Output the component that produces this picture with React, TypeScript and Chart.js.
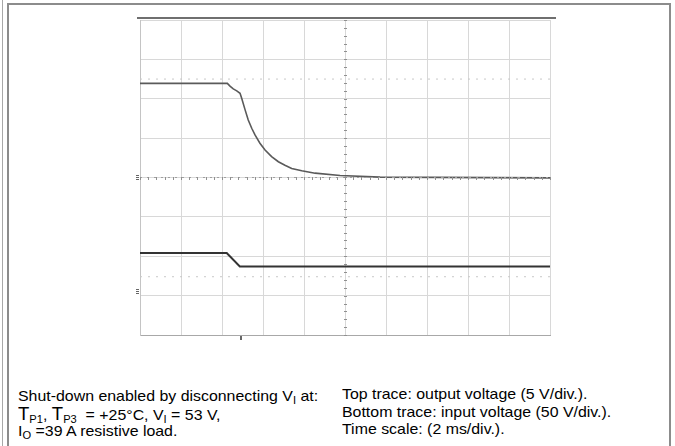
import React, { useEffect, useRef } from "react";
import { Chart, registerables } from "chart.js";

Chart.register(...registerables);

// Time in ms (2 ms/div), amplitude in divisions (screen centre = 0)
const topTraceTime = [
  0, 4.26, 4.39, 4.55, 4.72, 4.88, 4.96, 5.12, 5.28, 5.45, 5.61, 5.85, 6.1, 6.42, 6.75, 7.07, 7.4, 7.89, 8.54,
  9.76, 11.71, 20,
];
const topTraceDiv = [
  2.39, 2.39, 2.32, 2.25, 2.2, 2.14, 2.01, 1.73, 1.46, 1.25, 1.08, 0.87, 0.7, 0.53, 0.4, 0.31, 0.23, 0.17, 0.11,
  0.05, 0.01, -0.01,
];

const bottomTraceTime = [0, 4.23, 4.87, 20];
const bottomTraceDiv = [-1.92, -1.92, -2.26, -2.26];

const cursorLevels = [2.5, -2.52];
const channelGroundLevels = [0, -2.92];
const triggerTime = 4.95;

const xMin = 0;
const xMax = 20;
const xStep = 2;
const yMin = -4;
const yMax = 4;
const yStep = 1;

const scopePlugin = {
  id: "scopeDecor",
  afterDatasetsDraw(chart: any) {
    const { ctx, chartArea, scales } = chart;
    const xs = scales.x;
    const ys = scales.y;
    ctx.save();
    // dark strip over the graticule
    ctx.strokeStyle = "#6f6f6f";
    ctx.lineWidth = 2;
    ctx.beginPath();
    ctx.moveTo(chartArea.left - 3, chartArea.top - 2);
    ctx.lineTo(chartArea.right + 6, chartArea.top - 2);
    ctx.stroke();

    // centre-line minor ticks
    const cx = Math.round(xs.getPixelForValue((xMin + xMax) / 2)) + 0.5;
    const cy = Math.round(ys.getPixelForValue(0)) + 0.5;
    ctx.strokeStyle = "#909090";
    ctx.lineWidth = 1;
    ctx.beginPath();
    for (let v = yMin; v <= yMax + 1e-6; v += 0.2) {
      const py = Math.round(ys.getPixelForValue(v)) + 0.5;
      ctx.moveTo(cx - 1.5, py);
      ctx.lineTo(cx + 1.5, py);
    }
    for (let t = xMin; t <= xMax + 1e-6; t += 0.4) {
      const px = Math.round(xs.getPixelForValue(t)) + 0.5;
      ctx.moveTo(px, cy - 1.5);
      ctx.lineTo(px, cy + 1.5);
    }
    ctx.stroke();

    // channel ground markers
    ctx.fillStyle = "#666";
    channelGroundLevels.forEach((lvl) => {
      const py = Math.round(ys.getPixelForValue(lvl));
      ctx.fillRect(chartArea.left - 4, py - 3, 3, 1);
      ctx.fillRect(chartArea.left - 4, py - 1, 3, 1);
      ctx.fillRect(chartArea.left - 4, py + 1, 3, 1);
    });
    // trigger marker
    const tx = Math.round(xs.getPixelForValue(triggerTime));
    ctx.fillRect(tx - 1, chartArea.bottom + 1, 2, 4);
    ctx.restore();
  },
};

export default function App() {
  const canvasRef = useRef<HTMLCanvasElement | null>(null);

  useEffect(() => {
    if (!canvasRef.current) return;
    const topData = topTraceTime.map((t, i) => ({ x: t, y: topTraceDiv[i] }));
    const bottomData = bottomTraceTime.map((t, i) => ({ x: t, y: bottomTraceDiv[i] }));
    const cursorSets = cursorLevels.map((lvl) => ({
      data: [
        { x: xMin, y: lvl },
        { x: xMax, y: lvl },
      ],
      borderColor: "#c8c8c8",
      borderWidth: 1,
      borderDash: [2, 6],
      pointRadius: 0,
    }));
    const chart = new Chart(canvasRef.current, {
      type: "line",
      data: {
        datasets: [
          ...cursorSets,
          {
            data: [
              { x: xMin, y: 0 },
              { x: xMax, y: 0 },
            ],
            borderColor: "#a0a0a0",
            borderWidth: 1,
            borderDash: [2, 5],
            pointRadius: 0,
          },
          {
            data: topData,
            borderColor: "#5a5a5a",
            borderWidth: 1.6,
            pointRadius: 0,
            tension: 0,
          },
          {
            data: bottomData,
            borderColor: "#333333",
            borderWidth: 2,
            pointRadius: 0,
            tension: 0,
          },
        ] as any,
      },
      options: {
        animation: false,
        responsive: false,
        devicePixelRatio: 1,
        layout: { padding: { left: 20, right: 20, top: 15, bottom: 15 } },
        plugins: { legend: { display: false }, tooltip: { enabled: false } },
        scales: {
          x: {
            type: "linear",
            min: xMin,
            max: xMax,
            ticks: { display: false, stepSize: xStep },
            grid: { color: "#d8d8d8", drawTicks: false },
            border: { color: "#a8a8a8", width: 1 },
          },
          y: {
            type: "linear",
            min: yMin,
            max: yMax,
            ticks: { display: false, stepSize: yStep },
            grid: { color: "#d8d8d8", drawTicks: false },
            border: { color: "#c4c4c4", width: 1 },
          },
        },
      },
      plugins: [scopePlugin],
    });
    return () => chart.destroy();
  }, []);

  const font = "'Liberation Sans', Arial, Helvetica, sans-serif";
  const line: React.CSSProperties = {
    position: "absolute",
    fontFamily: font,
    fontSize: 15,
    lineHeight: "18px",
    color: "#000",
    whiteSpace: "nowrap",
    transform: "scaleX(1.06)",
    transformOrigin: "0 50%",
  };
  const sub: React.CSSProperties = { fontSize: 10.5, position: "relative", top: 3 };

  return (
    <div style={{ position: "fixed", left: 0, top: 0, width: 675, height: 446, background: "#fff", overflow: "hidden" }}>
      <div style={{ position: "absolute", left: 2, top: 0, width: 1, height: 446, background: "#a8a8a8" }} />
      <div
        style={{
          position: "absolute",
          left: 7,
          top: 3,
          width: 660,
          height: 470,
          border: "2px solid #8c8c8c",
        }}
      />
      <canvas
        ref={canvasRef}
        width={450}
        height={345}
        style={{ position: "absolute", left: 120, top: 5, width: 450, height: 345 }}
      />
      <div style={{ ...line, left: 18, top: 387 }}>
        Shut-down enabled by disconnecting V<span style={sub}>I</span> at:
      </div>
      <div style={{ ...line, left: 18, top: 405 }}>
        <span style={{ fontSize: 17.5 }}>T</span>
        <span style={sub}>P1</span>, <span style={{ fontSize: 17.5 }}>T</span>
        <span style={sub}>P3</span>&nbsp; = +25°C, V<span style={sub}>I</span> = 53 V,
      </div>
      <div style={{ ...line, left: 18, top: 422 }}>
        I<span style={sub}>O</span> =39 A resistive load.
      </div>
      <div style={{ ...line, left: 342, top: 385 }}>Top trace: output voltage (5 V/div.).</div>
      <div style={{ ...line, left: 342, top: 402.5 }}>Bottom trace: input voltage (50 V/div.).</div>
      <div style={{ ...line, left: 342, top: 420 }}>Time scale: (2 ms/div.).</div>
    </div>
  );
}
